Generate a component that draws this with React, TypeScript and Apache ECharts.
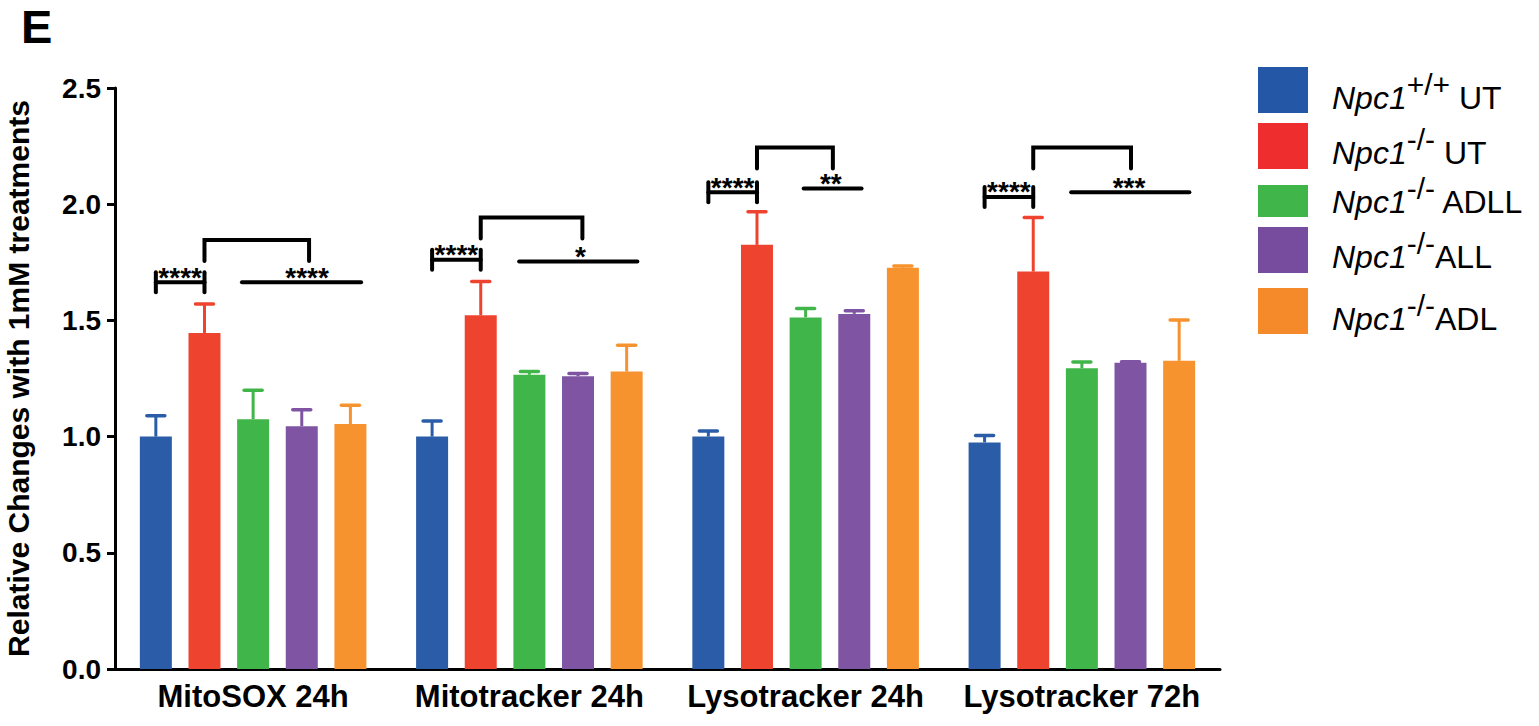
import React, { useEffect, useRef } from "react";
import * as echarts from "echarts";

const categories = ["MitoSOX 24h", "Mitotracker 24h", "Lysotracker 24h", "Lysotracker 72h"];
const legendSup = ["+/+", "-/-", "-/-", "-/-", "-/-"];
const legendSuffix = [" UT", " UT", " ADLL", "ALL", "ADL"];
const groupNames = legendSup.map((s, k) => "Npc1" + s + legendSuffix[k]);

const wtUT = [1.0, 1.0, 1.0, 0.975];
const koUT = [1.446, 1.522, 1.825, 1.71];
const koADLL = [1.075, 1.266, 1.513, 1.294];
const koALL = [1.045, 1.26, 1.528, 1.318];
const koADL = [1.054, 1.28, 1.727, 1.326];

const wtUTErr = [0.09, 0.067, 0.024, 0.03];
const koUTErr = [0.125, 0.145, 0.143, 0.233];
const koADLLErr = [0.124, 0.014, 0.038, 0.027];
const koALLErr = [0.07, 0.011, 0.014, 0.004];
const koADLErr = [0.081, 0.113, 0.007, 0.176];

const values = [wtUT, koUT, koADLL, koALL, koADL];
const errors = [wtUTErr, koUTErr, koADLLErr, koALLErr, koADLErr];

// significance annotations (y in data units, x in bar-slot units within a category)
const leftBracketY = [1.664, 1.761, 2.051, 2.031];
const topBracketY = [1.846, 1.943, 2.244, 2.244];
const topBracketEnd = [3.15, 3.09, 2.56, 3.01];
const rightLineY = [1.664, 1.753, 2.068, 2.051];
const rightLineFrom = [1.77, 1.79, 1.96, 1.78];
const rightLineTo = [4.22, 4.22, 3.15, 4.21];
const leftStars = ["****", "****", "****", "****"];
const rightStars = ["****", "*", "**", "***"];

const barColors = ["#2A5CA8", "#EE442F", "#40B64A", "#7F55A3", "#F6932E"];
const legendColors = ["#2457A6", "#EE2E2E", "#40B54A", "#774C9E", "#F58A2B"];

// legend layout (pixels)
const LEG_X = 1258;
const LEG_TEXT_X = 1332;
const legTop = [67, 123, 185, 227, 288];
const legHeight = [46, 46, 32, 46, 46];
const legBaseline = [109, 164, 213, 268, 330];

const FONT = "'Liberation Sans', Arial, Helvetica, sans-serif";
const BAR_W = 32;
const BAR_GAP = 0.52;
const SLOT = BAR_W * (1 + BAR_GAP);

export default function App() {
  const ref = useRef<HTMLDivElement>(null);
  useEffect(() => {
    const chart = echarts.init(ref.current!, null, { renderer: "svg" });

    const barSeries = values.map((vals, k) => ({
      type: "bar",
      name: groupNames[k],
      data: vals,
      barWidth: BAR_W,
      barGap: BAR_GAP * 100 + "%",
      itemStyle: { color: barColors[k] },
      z: 2,
    }));

    const errSeries = values.map((vals, k) => ({
      type: "custom",
      name: groupNames[k] + " err",
      silent: true,
      z: 3,
      encode: { x: 0, y: 1 },
      data: vals.map((v, i) => [i, v, errors[k][i]]),
      renderItem: (params: any, api: any) => {
        const i = api.value(0);
        const v = api.value(1);
        const e = api.value(2);
        const base = api.coord([i, v]);
        const top = api.coord([i, v + e]);
        const x = base[0] + (k - 2) * SLOT;
        const col = barColors[k];
        return {
          type: "group",
          children: [
            { type: "line", shape: { x1: x, y1: base[1], x2: x, y2: top[1] }, style: { stroke: col, lineWidth: 3 } },
            {
              type: "line",
              shape: { x1: x - 9, y1: top[1], x2: x + 9, y2: top[1] },
              style: { stroke: col, lineWidth: 3.5, lineCap: "round" },
            },
          ],
        };
      },
    }));

    const sigSeries = {
      type: "custom",
      name: "significance",
      silent: true,
      z: 10,
      encode: { x: 0, y: 1 },
      data: categories.map((_, i) => [i, topBracketY[i]]),
      renderItem: (params: any, api: any) => {
        const i = params.dataIndex;
        const c = api.coord([i, 0])[0];
        const px = (s: number) => c + (s - 2) * SLOT;
        const py = (v: number) => api.coord([i, v])[1];
        const st = { stroke: "#000", lineWidth: 4, lineCap: "round", fill: "none" };
        const yl = py(leftBracketY[i]);
        const yt = py(topBracketY[i]);
        const yr = py(rightLineY[i]);
        const x0 = px(0);
        const x1 = px(1);
        const xt = px(topBracketEnd[i]);
        const textStyle = (t: string) => ({
          text: t,
          fill: "#000",
          fontSize: 28,
          fontFamily: FONT,
          fontWeight: "bold",
          align: "center",
          verticalAlign: "middle",
        });
        return {
          type: "group",
          children: [
            { type: "line", shape: { x1: x0, y1: yl, x2: x1, y2: yl }, style: st },
            { type: "line", shape: { x1: x0, y1: yl - 10, x2: x0, y2: yl + 10 }, style: st },
            { type: "line", shape: { x1: x1, y1: yl - 10, x2: x1, y2: yl + 10 }, style: st },
            {
              type: "polyline",
              shape: { points: [[x1, yt + 21], [x1, yt], [xt, yt], [xt, yt + 21]] },
              style: st,
            },
            { type: "line", shape: { x1: px(rightLineFrom[i]), y1: yr, x2: px(rightLineTo[i]), y2: yr }, style: st },
            { type: "text", x: (x0 + x1) / 2, y: yl - 5, style: textStyle(leftStars[i]) },
            { type: "text", x: xt - 2, y: yr - 5, style: textStyle(rightStars[i]) },
          ],
        };
      },
    };

    const legendRich = {
      i: { fontStyle: "italic", fontSize: 32, lineHeight: 32, verticalAlign: "bottom", fontFamily: FONT, fill: "#000" },
      s: { fontSize: 30, lineHeight: 30, verticalAlign: "bottom", padding: [0, 0, 15, 0], fontFamily: FONT, fill: "#000" },
      n: { fontSize: 32, lineHeight: 32, verticalAlign: "bottom", fontFamily: FONT, fill: "#000" },
    };

    const legendGraphics: any[] = [];
    groupNames.forEach((_, k) => {
      legendGraphics.push({
        type: "rect",
        silent: true,
        shape: { x: LEG_X, y: legTop[k], width: 50, height: legHeight[k] },
        style: { fill: legendColors[k] },
      });
      legendGraphics.push({
        type: "text",
        silent: true,
        x: LEG_TEXT_X,
        y: legBaseline[k] + 5,
        style: {
          text: "{i|Npc1}{s|" + legendSup[k] + "}{n|" + legendSuffix[k] + "}",
          rich: legendRich,
          align: "left",
          verticalAlign: "bottom",
          fill: "#000",
          fontFamily: FONT,
        },
      });
    });

    const option: any = {
      animation: false,
      backgroundColor: "#fff",
      textStyle: { fontFamily: FONT },
      grid: { left: 115, right: 319, top: 88, bottom: 57, containLabel: false, outerBoundsMode: "none" },
      graphic: [
        {
          type: "text",
          left: 21,
          top: 3,
          style: { text: "E", fontSize: 47, fontWeight: "bold", fontFamily: FONT, fill: "#000" },
        },
        ...legendGraphics,
      ],
      xAxis: {
        type: "category",
        data: categories,
        axisLine: { lineStyle: { color: "#000", width: 3 } },
        axisTick: { alignWithLabel: true, length: 8, lineStyle: { color: "#000", width: 3 } },
        axisLabel: { interval: 0, color: "#000", fontSize: 31, fontWeight: "bold", fontFamily: FONT, margin: 12 },
      },
      yAxis: {
        type: "value",
        min: 0,
        max: 2.5,
        interval: 0.5,
        name: "Relative Changes with 1mM treatments",
        nameLocation: "middle",
        nameRotate: 90,
        nameGap: 82,
        nameTextStyle: { color: "#000", fontSize: 30, fontWeight: "bold", fontFamily: FONT },
        axisLine: { show: true, lineStyle: { color: "#000", width: 3 } },
        axisTick: { show: true, length: 8, lineStyle: { color: "#000", width: 3 } },
        axisLabel: {
          color: "#000",
          fontSize: 28,
          fontWeight: "bold",
          fontFamily: FONT,
          margin: 14,
          formatter: (v: number) => v.toFixed(1),
        },
        splitLine: { show: false },
      },
      series: [...barSeries, ...errSeries, sigSeries],
    };

    chart.setOption(option);
    return () => chart.dispose();
  }, []);
  return (
    <div
      ref={ref}
      style={{ position: "fixed", left: 0, top: 0, width: 1539, height: 726, background: "#fff" }}
    />
  );
}
